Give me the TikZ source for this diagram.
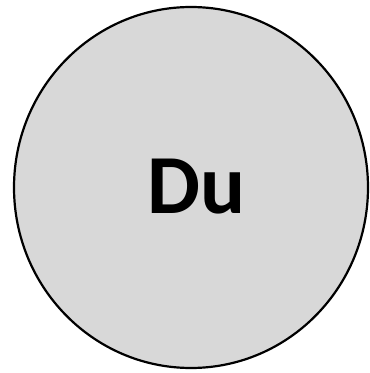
\documentclass[tikz,border=0pt]{standalone}
\usepackage{fontspec}
\usetikzlibrary{shapes.geometric}
\setmainfont{Carlito}
\definecolor{fillgray}{RGB}{216,216,216}
\begin{document}
\begin{tikzpicture}[x=1pt,y=1pt,
  bubble/.style={ellipse,draw=black,line width=2.2pt,fill=fillgray,minimum width=354pt,minimum height=361pt,inner sep=0pt},
  lbl/.style={font=\fontsize{84}{90}\selectfont\bfseries,text=black}]
\useasboundingbox (0,0) rectangle (370,373);
\node[bubble] (c) at (191,185.5) {};
\node[lbl] (t) at (197,186) {Du};
\end{tikzpicture}
\end{document}
